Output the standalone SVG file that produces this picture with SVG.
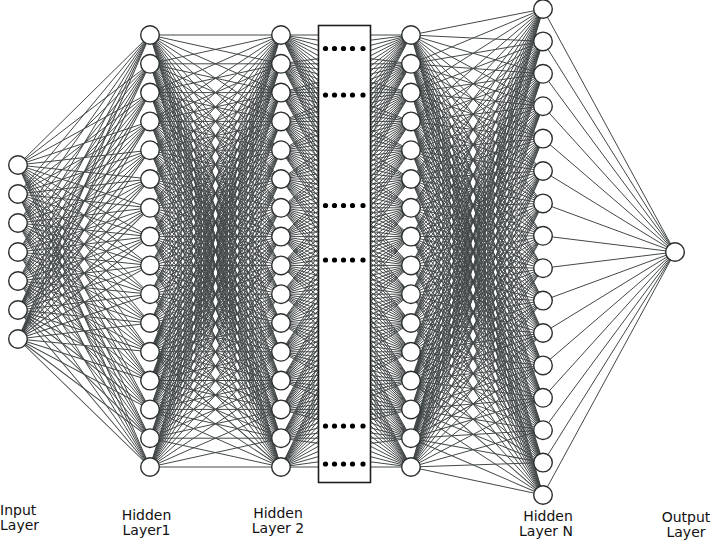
<svg xmlns="http://www.w3.org/2000/svg" width="714" height="541" viewBox="0 0 714 541">
<style>
.e{fill:none;stroke:#434848;stroke-width:1}
.n{fill:#fff;stroke:#2a2e2e;stroke-width:1.4}
.t{font-family:"DejaVu Sans",Verdana,sans-serif;font-size:14px;fill:#111}
.d{fill:#000}
</style>
<defs>
<path id="f" vector-effect="non-scaling-stroke" class="e" d="M0 0L1 0M0 0L1 1M0 0L1 2M0 0L1 3M0 0L1 4M0 0L1 5M0 0L1 6M0 0L1 7M0 0L1 8M0 0L1 9M0 0L1 10M0 0L1 11M0 0L1 12M0 0L1 13M0 0L1 14M0 0L1 15"/>
</defs>
<rect width="714" height="541" fill="#fff"/>
<g id="connectors">
<g id="in-h1">
<use href="#f" transform="matrix(132 -130 0 28.8 18 165)"/>
<use href="#f" transform="matrix(132 -159 0 28.8 18 194)"/>
<use href="#f" transform="matrix(132 -188 0 28.8 18 223)"/>
<use href="#f" transform="matrix(132 -217 0 28.8 18 252)"/>
<use href="#f" transform="matrix(132 -246 0 28.8 18 281)"/>
<use href="#f" transform="matrix(132 -275 0 28.8 18 310)"/>
<use href="#f" transform="matrix(132 -304 0 28.8 18 339)"/>
</g>
<g id="h1-h2">
<use href="#f" transform="matrix(131 0 0 28.8 150 35)"/>
<use href="#f" transform="matrix(131 -28.8 0 28.8 150 63.8)"/>
<use href="#f" transform="matrix(131 -57.6 0 28.8 150 92.6)"/>
<use href="#f" transform="matrix(131 -86.4 0 28.8 150 121.4)"/>
<use href="#f" transform="matrix(131 -115.2 0 28.8 150 150.2)"/>
<use href="#f" transform="matrix(131 -144 0 28.8 150 179)"/>
<use href="#f" transform="matrix(131 -172.8 0 28.8 150 207.8)"/>
<use href="#f" transform="matrix(131 -201.6 0 28.8 150 236.6)"/>
<use href="#f" transform="matrix(131 -230.4 0 28.8 150 265.4)"/>
<use href="#f" transform="matrix(131 -259.2 0 28.8 150 294.2)"/>
<use href="#f" transform="matrix(131 -288 0 28.8 150 323)"/>
<use href="#f" transform="matrix(131 -316.8 0 28.8 150 351.8)"/>
<use href="#f" transform="matrix(131 -345.6 0 28.8 150 380.6)"/>
<use href="#f" transform="matrix(131 -374.4 0 28.8 150 409.4)"/>
<use href="#f" transform="matrix(131 -403.2 0 28.8 150 438.2)"/>
<use href="#f" transform="matrix(131 -432 0 28.8 150 467)"/>
</g>
<g id="h2-box">
<use href="#f" transform="matrix(37.5 0 0 5.184 281 35)"/>
<use href="#f" transform="matrix(37.5 -5.184 0 5.184 281 63.8)"/>
<use href="#f" transform="matrix(37.5 -10.368 0 5.184 281 92.6)"/>
<use href="#f" transform="matrix(37.5 -15.552 0 5.184 281 121.4)"/>
<use href="#f" transform="matrix(37.5 -20.736 0 5.184 281 150.2)"/>
<use href="#f" transform="matrix(37.5 -25.92 0 5.184 281 179)"/>
<use href="#f" transform="matrix(37.5 -31.104 0 5.184 281 207.8)"/>
<use href="#f" transform="matrix(37.5 -36.288 0 5.184 281 236.6)"/>
<use href="#f" transform="matrix(37.5 -41.472 0 5.184 281 265.4)"/>
<use href="#f" transform="matrix(37.5 -46.656 0 5.184 281 294.2)"/>
<use href="#f" transform="matrix(37.5 -51.84 0 5.184 281 323)"/>
<use href="#f" transform="matrix(37.5 -57.024 0 5.184 281 351.8)"/>
<use href="#f" transform="matrix(37.5 -62.208 0 5.184 281 380.6)"/>
<use href="#f" transform="matrix(37.5 -67.392 0 5.184 281 409.4)"/>
<use href="#f" transform="matrix(37.5 -72.576 0 5.184 281 438.2)"/>
<use href="#f" transform="matrix(37.5 -77.76 0 5.184 281 467)"/>
</g>
<g id="box-hn1">
<use href="#f" transform="matrix(-40.5 0 0 5.184 411 35)"/>
<use href="#f" transform="matrix(-40.5 -5.184 0 5.184 411 63.8)"/>
<use href="#f" transform="matrix(-40.5 -10.368 0 5.184 411 92.6)"/>
<use href="#f" transform="matrix(-40.5 -15.552 0 5.184 411 121.4)"/>
<use href="#f" transform="matrix(-40.5 -20.736 0 5.184 411 150.2)"/>
<use href="#f" transform="matrix(-40.5 -25.92 0 5.184 411 179)"/>
<use href="#f" transform="matrix(-40.5 -31.104 0 5.184 411 207.8)"/>
<use href="#f" transform="matrix(-40.5 -36.288 0 5.184 411 236.6)"/>
<use href="#f" transform="matrix(-40.5 -41.472 0 5.184 411 265.4)"/>
<use href="#f" transform="matrix(-40.5 -46.656 0 5.184 411 294.2)"/>
<use href="#f" transform="matrix(-40.5 -51.84 0 5.184 411 323)"/>
<use href="#f" transform="matrix(-40.5 -57.024 0 5.184 411 351.8)"/>
<use href="#f" transform="matrix(-40.5 -62.208 0 5.184 411 380.6)"/>
<use href="#f" transform="matrix(-40.5 -67.392 0 5.184 411 409.4)"/>
<use href="#f" transform="matrix(-40.5 -72.576 0 5.184 411 438.2)"/>
<use href="#f" transform="matrix(-40.5 -77.76 0 5.184 411 467)"/>
</g>
<g id="hn1-hn">
<use href="#f" transform="matrix(132 -26 0 32.4 411 35)"/>
<use href="#f" transform="matrix(132 -54.8 0 32.4 411 63.8)"/>
<use href="#f" transform="matrix(132 -83.6 0 32.4 411 92.6)"/>
<use href="#f" transform="matrix(132 -112.4 0 32.4 411 121.4)"/>
<use href="#f" transform="matrix(132 -141.2 0 32.4 411 150.2)"/>
<use href="#f" transform="matrix(132 -170 0 32.4 411 179)"/>
<use href="#f" transform="matrix(132 -198.8 0 32.4 411 207.8)"/>
<use href="#f" transform="matrix(132 -227.6 0 32.4 411 236.6)"/>
<use href="#f" transform="matrix(132 -256.4 0 32.4 411 265.4)"/>
<use href="#f" transform="matrix(132 -285.2 0 32.4 411 294.2)"/>
<use href="#f" transform="matrix(132 -314 0 32.4 411 323)"/>
<use href="#f" transform="matrix(132 -342.8 0 32.4 411 351.8)"/>
<use href="#f" transform="matrix(132 -371.6 0 32.4 411 380.6)"/>
<use href="#f" transform="matrix(132 -400.4 0 32.4 411 409.4)"/>
<use href="#f" transform="matrix(132 -429.2 0 32.4 411 438.2)"/>
<use href="#f" transform="matrix(132 -458 0 32.4 411 467)"/>
</g>
<g id="hn-out">
<use href="#f" transform="matrix(-132 -243 0 32.4 675 252)"/>
</g>
</g>
<g id="box">
<rect x="318.5" y="25.5" width="52" height="457" fill="#fff" stroke="#1e1e1e" stroke-width="1.6"/>
<g class="d">
<circle cx="325.5" cy="48.5" r="2.6"/><circle cx="334.5" cy="48.5" r="2.6"/><circle cx="343.5" cy="48.5" r="2.6"/><circle cx="352.5" cy="48.5" r="2.6"/><circle cx="363" cy="48.5" r="2.6"/>
<circle cx="325.5" cy="95" r="2.6"/><circle cx="334.5" cy="95" r="2.6"/><circle cx="343.5" cy="95" r="2.6"/><circle cx="352.5" cy="95" r="2.6"/><circle cx="363" cy="95" r="2.6"/>
<circle cx="325.5" cy="205.5" r="2.6"/><circle cx="334.5" cy="205.5" r="2.6"/><circle cx="343.5" cy="205.5" r="2.6"/><circle cx="352.5" cy="205.5" r="2.6"/><circle cx="363" cy="205.5" r="2.6"/>
<circle cx="325.5" cy="260" r="2.6"/><circle cx="334.5" cy="260" r="2.6"/><circle cx="343.5" cy="260" r="2.6"/><circle cx="352.5" cy="260" r="2.6"/><circle cx="363" cy="260" r="2.6"/>
<circle cx="325.5" cy="426" r="2.6"/><circle cx="334.5" cy="426" r="2.6"/><circle cx="343.5" cy="426" r="2.6"/><circle cx="352.5" cy="426" r="2.6"/><circle cx="363" cy="426" r="2.6"/>
<circle cx="325.5" cy="464" r="2.6"/><circle cx="334.5" cy="464" r="2.6"/><circle cx="343.5" cy="464" r="2.6"/><circle cx="352.5" cy="464" r="2.6"/><circle cx="363" cy="464" r="2.6"/>
</g>
</g>
<g id="input-layer">
<g id="in1"><circle class="n" cx="18" cy="165" r="9.3"/></g>
<g id="in2"><circle class="n" cx="18" cy="194" r="9.3"/></g>
<g id="in3"><circle class="n" cx="18" cy="223" r="9.3"/></g>
<g id="in4"><circle class="n" cx="18" cy="252" r="9.3"/></g>
<g id="in5"><circle class="n" cx="18" cy="281" r="9.3"/></g>
<g id="in6"><circle class="n" cx="18" cy="310" r="9.3"/></g>
<g id="in7"><circle class="n" cx="18" cy="339" r="9.3"/></g>
</g>
<g id="hidden-layer-1">
<g id="h1n1"><circle class="n" cx="150" cy="35" r="9.3"/></g>
<g id="h1n2"><circle class="n" cx="150" cy="63.8" r="9.3"/></g>
<g id="h1n3"><circle class="n" cx="150" cy="92.6" r="9.3"/></g>
<g id="h1n4"><circle class="n" cx="150" cy="121.4" r="9.3"/></g>
<g id="h1n5"><circle class="n" cx="150" cy="150.2" r="9.3"/></g>
<g id="h1n6"><circle class="n" cx="150" cy="179" r="9.3"/></g>
<g id="h1n7"><circle class="n" cx="150" cy="207.8" r="9.3"/></g>
<g id="h1n8"><circle class="n" cx="150" cy="236.6" r="9.3"/></g>
<g id="h1n9"><circle class="n" cx="150" cy="265.4" r="9.3"/></g>
<g id="h1n10"><circle class="n" cx="150" cy="294.2" r="9.3"/></g>
<g id="h1n11"><circle class="n" cx="150" cy="323" r="9.3"/></g>
<g id="h1n12"><circle class="n" cx="150" cy="351.8" r="9.3"/></g>
<g id="h1n13"><circle class="n" cx="150" cy="380.6" r="9.3"/></g>
<g id="h1n14"><circle class="n" cx="150" cy="409.4" r="9.3"/></g>
<g id="h1n15"><circle class="n" cx="150" cy="438.2" r="9.3"/></g>
<g id="h1n16"><circle class="n" cx="150" cy="467" r="9.3"/></g>
</g>
<g id="hidden-layer-2">
<g id="h2n1"><circle class="n" cx="281" cy="35" r="9.3"/></g>
<g id="h2n2"><circle class="n" cx="281" cy="63.8" r="9.3"/></g>
<g id="h2n3"><circle class="n" cx="281" cy="92.6" r="9.3"/></g>
<g id="h2n4"><circle class="n" cx="281" cy="121.4" r="9.3"/></g>
<g id="h2n5"><circle class="n" cx="281" cy="150.2" r="9.3"/></g>
<g id="h2n6"><circle class="n" cx="281" cy="179" r="9.3"/></g>
<g id="h2n7"><circle class="n" cx="281" cy="207.8" r="9.3"/></g>
<g id="h2n8"><circle class="n" cx="281" cy="236.6" r="9.3"/></g>
<g id="h2n9"><circle class="n" cx="281" cy="265.4" r="9.3"/></g>
<g id="h2n10"><circle class="n" cx="281" cy="294.2" r="9.3"/></g>
<g id="h2n11"><circle class="n" cx="281" cy="323" r="9.3"/></g>
<g id="h2n12"><circle class="n" cx="281" cy="351.8" r="9.3"/></g>
<g id="h2n13"><circle class="n" cx="281" cy="380.6" r="9.3"/></g>
<g id="h2n14"><circle class="n" cx="281" cy="409.4" r="9.3"/></g>
<g id="h2n15"><circle class="n" cx="281" cy="438.2" r="9.3"/></g>
<g id="h2n16"><circle class="n" cx="281" cy="467" r="9.3"/></g>
</g>
<g id="hidden-layer-n-1">
<g id="hm1"><circle class="n" cx="411" cy="35" r="9.3"/></g>
<g id="hm2"><circle class="n" cx="411" cy="63.8" r="9.3"/></g>
<g id="hm3"><circle class="n" cx="411" cy="92.6" r="9.3"/></g>
<g id="hm4"><circle class="n" cx="411" cy="121.4" r="9.3"/></g>
<g id="hm5"><circle class="n" cx="411" cy="150.2" r="9.3"/></g>
<g id="hm6"><circle class="n" cx="411" cy="179" r="9.3"/></g>
<g id="hm7"><circle class="n" cx="411" cy="207.8" r="9.3"/></g>
<g id="hm8"><circle class="n" cx="411" cy="236.6" r="9.3"/></g>
<g id="hm9"><circle class="n" cx="411" cy="265.4" r="9.3"/></g>
<g id="hm10"><circle class="n" cx="411" cy="294.2" r="9.3"/></g>
<g id="hm11"><circle class="n" cx="411" cy="323" r="9.3"/></g>
<g id="hm12"><circle class="n" cx="411" cy="351.8" r="9.3"/></g>
<g id="hm13"><circle class="n" cx="411" cy="380.6" r="9.3"/></g>
<g id="hm14"><circle class="n" cx="411" cy="409.4" r="9.3"/></g>
<g id="hm15"><circle class="n" cx="411" cy="438.2" r="9.3"/></g>
<g id="hm16"><circle class="n" cx="411" cy="467" r="9.3"/></g>
</g>
<g id="hidden-layer-n">
<g id="hn1"><circle class="n" cx="543" cy="9" r="9.3"/></g>
<g id="hn2"><circle class="n" cx="543" cy="41.4" r="9.3"/></g>
<g id="hn3"><circle class="n" cx="543" cy="73.8" r="9.3"/></g>
<g id="hn4"><circle class="n" cx="543" cy="106.2" r="9.3"/></g>
<g id="hn5"><circle class="n" cx="543" cy="138.6" r="9.3"/></g>
<g id="hn6"><circle class="n" cx="543" cy="171" r="9.3"/></g>
<g id="hn7"><circle class="n" cx="543" cy="203.4" r="9.3"/></g>
<g id="hn8"><circle class="n" cx="543" cy="235.8" r="9.3"/></g>
<g id="hn9"><circle class="n" cx="543" cy="268.2" r="9.3"/></g>
<g id="hn10"><circle class="n" cx="543" cy="300.6" r="9.3"/></g>
<g id="hn11"><circle class="n" cx="543" cy="333" r="9.3"/></g>
<g id="hn12"><circle class="n" cx="543" cy="365.4" r="9.3"/></g>
<g id="hn13"><circle class="n" cx="543" cy="397.8" r="9.3"/></g>
<g id="hn14"><circle class="n" cx="543" cy="430.2" r="9.3"/></g>
<g id="hn15"><circle class="n" cx="543" cy="462.6" r="9.3"/></g>
<g id="hn16"><circle class="n" cx="543" cy="495" r="9.3"/></g>
</g>
<g id="output-layer">
<g id="out1"><circle class="n" cx="675" cy="252" r="9.3"/></g>
</g>
<g id="labels">
<text class="t" x="0" y="515">Input</text>
<text class="t" x="0" y="530">Layer</text>
<text class="t" x="146.5" y="520" text-anchor="middle">Hidden</text>
<text class="t" x="146.5" y="535" text-anchor="middle">Layer1</text>
<text class="t" x="278" y="518" text-anchor="middle">Hidden</text>
<text class="t" x="278" y="533" text-anchor="middle">Layer 2</text>
<text class="t" x="548" y="521" text-anchor="middle">Hidden</text>
<text class="t" x="546" y="536" text-anchor="middle">Layer N</text>
<text class="t" x="686" y="522" text-anchor="middle">Output</text>
<text class="t" x="686" y="537" text-anchor="middle">Layer</text>
</g>
</svg>
